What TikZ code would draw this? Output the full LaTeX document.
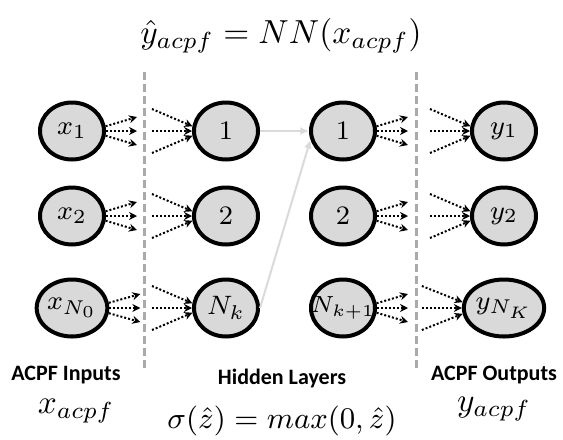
\documentclass[tikz,border=0pt]{standalone}
\usepackage{fontspec}
\newfontfamily\calibri{Carlito}
\usetikzlibrary{arrows.meta,calc,shapes.geometric}
\definecolor{nodefill}{RGB}{217,217,217}
\definecolor{dashgray}{RGB}{170,170,170}
\definecolor{linkgray}{RGB}{218,218,218}
\begin{document}
\begin{tikzpicture}[x=0.3pt,y=-0.3pt,
  neuron/.style={ellipse, draw=black, line width=1.2pt, fill=nodefill,
    minimum width=19.2pt, minimum height=17.1pt, inner sep=0pt,
    font=\fontsize{8.2}{10}\selectfont},
  fan/.style={line width=0.6pt, dash pattern=on 0.6pt off 0.6pt,
    -{Stealth[length=2.4pt,width=2.4pt]}},
  layersep/.style={dashgray, line width=0.9pt, dash pattern=on 2.4pt off 1.2pt},
  link/.style={linkgray, line width=0.6pt, -{Latex[length=2.6pt,width=2.4pt]}},
  lbl/.style={font=\calibri\bfseries\fontsize{6.6}{8}\selectfont, inner sep=0pt},
  formula/.style={font=\fontsize{10.4}{12}\selectfont, inner sep=0pt},
  smallformula/.style={font=\fontsize{9.4}{11}\selectfont, inner sep=0pt}
]
\useasboundingbox (0,0) rectangle (563,439);

% layer separators
\coordinate (d1t) at (144,72);
\coordinate (d1b) at (144,370);
\coordinate (d2t) at (416,72);
\coordinate (d2b) at (416,370);
\draw[layersep] (d1t) -- (d1b);
\draw[layersep] (d2t) -- (d2b);

% neurons
\node[neuron] (x1) at (72,131) {$x_1$};
\node[neuron] (x2) at (72,216) {$x_2$};
\node[neuron] (x3) at (72,308) {$x_{N_0}$};
\node[neuron] (h1) at (226,131) {$1$};
\node[neuron] (h2) at (226,216) {$2$};
\node[neuron] (h3) at (226,308) {$N_k$};
\node[neuron] (g1) at (343,131) {$1$};
\node[neuron] (g2) at (343,216) {$2$};
\node[neuron, font=\fontsize{6.9}{8}\selectfont] (g3) at (343,308) {\makebox[0pt]{$N_{k+1}$}};
\node[neuron] (y1) at (504,131) {$y_1$};
\node[neuron] (y2) at (504,216) {$y_2$};
\node[neuron] (y3) at (504,308) {$y_{N_K}$};

% outgoing fans
\foreach \n in {x1,x2,x3,g1,g2,g3}{
  \coordinate (\n o1) at ($(\n.east)+(31,-14)$);
  \coordinate (\n o2) at ($(\n.east)+(31,0)$);
  \coordinate (\n o3) at ($(\n.east)+(31,14)$);
  \draw[fan] (\n.8) -- (\n o1);
  \draw[fan] (\n.east) -- (\n o2);
  \draw[fan] (\n.-8) -- (\n o3);
}
% incoming fans
\foreach \n in {h1,h2,h3,y1,y2,y3}{
  \coordinate (\n i1) at ($(\n.west)+(-40,-22)$);
  \coordinate (\n i2) at ($(\n.west)+(-40,0)$);
  \coordinate (\n i3) at ($(\n.west)+(-40,22)$);
  \draw[fan] (\n i1) -- (\n.172);
  \draw[fan] (\n i2) -- (\n.west);
  \draw[fan] (\n i3) -- (\n.188);
}

% hidden links
\draw[link] (h1.east) -- (g1.west);
\draw[link] (h3.east) -- (g1.195);

% labels
\node[lbl] (lin) at (66,375) {ACPF Inputs};
\node[lbl] (lhid) at (282,379) {Hidden Layers};
\node[lbl] (lout) at (494,375) {ACPF Outputs};
\node[formula] (xin) at (76,411) {$x_{acpf}$};
\node[formula] (yout) at (494,409) {$y_{acpf}$};
\node[smallformula] (sig) at (282,421) {$\sigma(\hat z) = max(0,\hat z)$};
\node[formula] (top) at (281,36) {$\hat y_{acpf} = NN(x_{acpf})$};
\end{tikzpicture}
\end{document}
